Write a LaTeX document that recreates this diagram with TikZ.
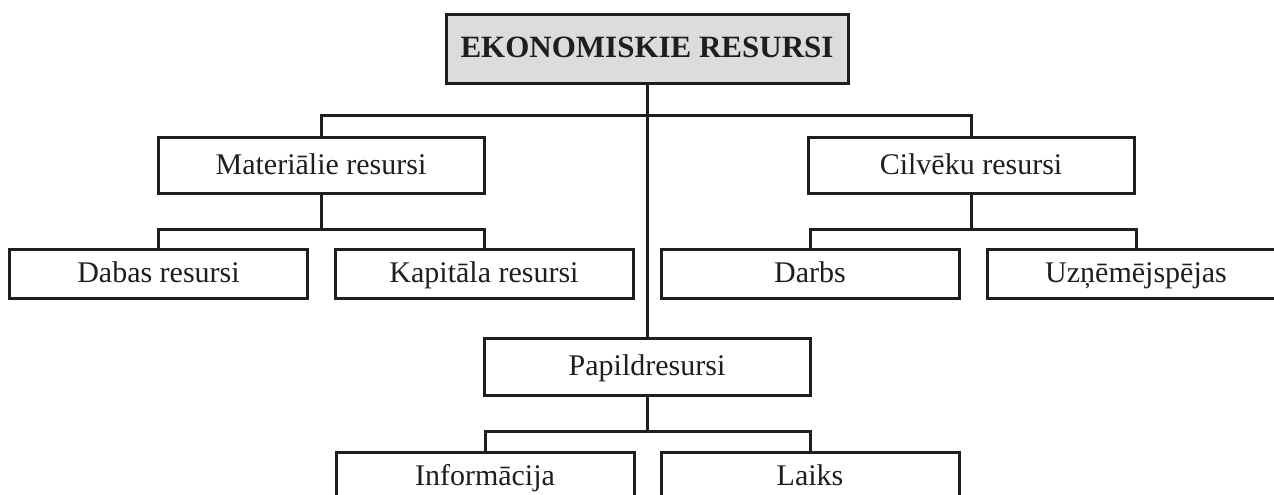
\documentclass[tikz,border=0pt]{standalone}
\usepackage{fontspec}
\setmainfont{Liberation Serif}
\definecolor{titlegray}{RGB}{220,220,220}
\definecolor{ink}{RGB}{30,30,30}
\begin{document}
\begin{tikzpicture}[x=1pt,y=-1pt,
  box/.style={draw=ink, line width=3pt, fill=white, inner sep=0pt, text=ink,
    text height=22pt, text depth=4pt,
    font=\fontsize{30}{34}\selectfont},
  wide/.style={box, minimum width=326pt, minimum height=56pt},
  leaf/.style={box, minimum width=298pt, minimum height=49pt},
  conn/.style={draw=ink, line width=3pt}]
\clip (0,0) rectangle (1274,495);
\fill[white] (0,0) rectangle (1274,495);
% nodes
\node[box, fill=titlegray, minimum width=402pt, minimum height=68pt,
  font=\fontsize{31}{34}\selectfont\bfseries] (top) at (647,49) {EKONOMISKIE RESURSI};
\node[wide] (mat) at (321,165) {Materiālie resursi};
\node[wide] (cil) at (971,165) {Cilvēku resursi};
\node[leaf] (dab) at (158.5,273.5) {Dabas resursi};
\node[leaf] (kap) at (484,273.5) {Kapitāla resursi};
\node[leaf] (dar) at (810,273.5) {Darbs};
\node[leaf] (uzn) at (1136,273.5) {Uzņēmējspējas};
\node[wide, minimum height=57pt] (pap) at (647,366.5) {Papildresursi};
\node[leaf] (inf) at (485,476.5) {Informācija};
\node[leaf] (lai) at (810,476.5) {Laiks};
% connectors
\path (top.south) -- ++(0,31) coordinate (b1);
\draw[conn] (top.south) -- (pap.north);
\draw[conn] (mat.north) |- (b1) -| (cil.north);
\draw[conn] (mat.south) -- ++(0,35) coordinate (m1);
\draw[conn] (dab.north) |- (m1) -| (kap.north);
\draw[conn] (cil.south) -- ++(0,35) coordinate (c1);
\draw[conn] (dar.north) |- (c1) -| (uzn.north);
\draw[conn] (pap.south) -- ++(0,35) coordinate (p1);
\draw[conn] (inf.north) |- (p1) -| (lai.north);
\end{tikzpicture}
\end{document}
